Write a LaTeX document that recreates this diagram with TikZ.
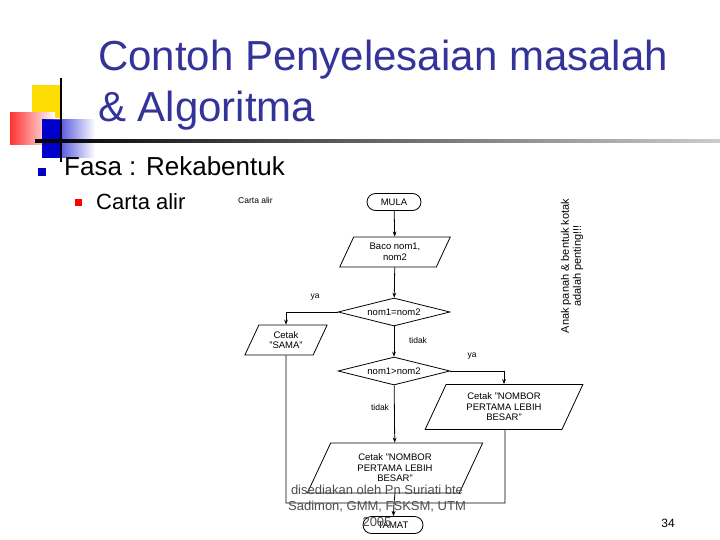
\documentclass[tikz,border=0pt]{standalone}
\usepackage{fontspec}
\setmainfont{Liberation Sans}
\usetikzlibrary{shapes.geometric,shapes.misc,arrows.meta,shadings}
\definecolor{titleblue}{HTML}{333399}
\begin{document}
\begin{tikzpicture}[x=1pt,y=-1pt,
  fc/.style={font=\fontsize{9.5}{10.5}\selectfont,align=center,inner sep=1pt},
  term/.style={fc,draw,thick,rounded rectangle,minimum width=56,minimum height=17},
  io/.style={fc,draw,thick,trapezium,trapezium left angle=65,trapezium right angle=115,minimum height=#1},
  dec/.style={fc,draw,thick,diamond,aspect=4,inner xsep=0pt,inner ysep=4pt,minimum width=88},
  arr/.style={thick,-{Stealth[length=5pt]}},
  ln/.style={thick},
  lab/.style={font=\fontsize{8.5}{9}\selectfont,inner sep=0}]
\useasboundingbox (0,0) rectangle (720,540);
% decoration
\fill[yellow!80!orange] (32,85) rectangle (62,118);
\shade[left color=red!80, right color=white] (10,113) rectangle (55,145);
\shade[left color=blue!80!black, right color=white] (42,120) rectangle (95,158);
\fill[blue!80!black] (42,120) rectangle (62,158);
\draw[line width=1.5pt] (61,78) -- (61,162);
\shade[left color=black, right color=gray!40] (35,140) rectangle (720,142.5);
% title
\node[anchor=west,text=titleblue,font=\fontsize{42}{46}\selectfont,inner sep=0] (t1) at (98,60) {Contoh Penyelesaian masalah};
\node[anchor=west,text=titleblue,font=\fontsize{42}{46}\selectfont,inner sep=0] (t2) at (98,111) {\& Algoritma};
\fill[blue!75!black] (38,168) rectangle (46,176);
\node[anchor=west,font=\fontsize{26}{30}\selectfont,inner sep=0] (fasa) at (64,166) {Fasa : Rekabentuk};
\fill[red] (75,199) rectangle (82,206);
\node[anchor=west,font=\fontsize{22}{26}\selectfont,inner sep=0] (carta) at (96,202) {Carta alir};
% flowchart
\node[lab,anchor=west] (ca) at (238,200) {Carta alir};
\node[term] (mula) at (394,202) {MULA};
\node[io=30,minimum width=84] (baca) at (395,252) {Baco nom1,\\nom2};
\node[dec] (d1) at (394,312) {nom1=nom2};
\node[io=30,minimum width=62] (sama) at (286,340) {Cetak\\"SAMA"};
\node[dec] (d2) at (394,371) {nom1>nom2};
\node[io=45,minimum width=130] (kanan) at (504,407) {Cetak "NOMBOR\\PERTAMA LEBIH\\BESAR"};
\node[io=50,minimum width=132] (bawah) at (395,468) {Cetak "NOMBOR\\PERTAMA LEBIH\\BESAR"};
\node[term,minimum width=62] (tamat) at (393,525) {TAMAT};
\coordinate (j) at (394,503);
\draw[arr] (mula) -- (baca);
\draw[arr] (baca) -- (d1);
\draw[arr] (d1.west) -| (sama.north);
\draw[arr] (d1) -- (d2);
\draw[arr] (d2.east) -| (kanan.north);
\draw[arr] (d2) -- (bawah);
\draw[ln] (sama.south) -- (286,503) -- (505,503) -- (505,430);
\draw[arr] (bawah.south) -- (j) -- (tamat);
\node[lab] (ya1) at (315,297) {ya};
\node[lab] (ya2) at (472,356) {ya};
\node[lab] (td1) at (418,340) {tidak};
\node[lab] (td2) at (380,407) {tidak};
\node[lab,rotate=90,align=center,font=\fontsize{11}{12}\selectfont] (note) at (572,266) {Anak panah \& bentuk kotak\\adalah penting!!!};
% footer
\node[align=center,font=\fontsize{13}{16}\selectfont,text=black!70,inner sep=0] (foot) at (377,506) {disediakan oleh Pn Suriati bte\\Sadimon, GMM, FSKSM, UTM\\2005};
\node[font=\fontsize{12}{13}\selectfont,inner sep=0] (pg) at (668,523) {34};
\end{tikzpicture}
\end{document}
